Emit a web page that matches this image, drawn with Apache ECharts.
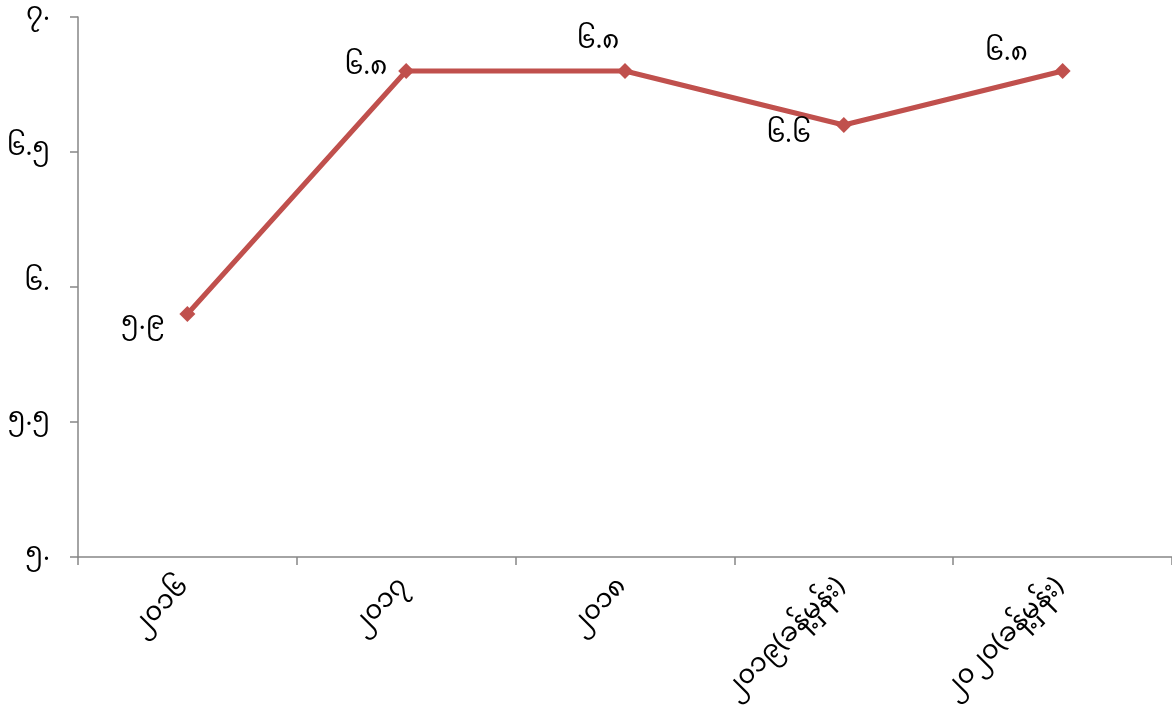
<!DOCTYPE html>
<html>
<head>
<meta charset="utf-8">
<script src="https://cdn.jsdelivr.net/npm/echarts@6/dist/echarts.min.js"></script>
<style>html,body{margin:0;padding:0;background:#fff;}#c{width:1172px;height:718px;}</style>
</head>
<body>
<div id="c"></div>
<script>
const categories = ['၂၀၁၆', '၂၀၁၇', '၂၀၁၈', '၂၀၁၉(ခန့်မှန်း)', '၂၀၂၀(ခန့်မှန်း)'];
const values = [5.9, 6.8, 6.8, 6.6, 6.8];
const yTicks = {5: '၅.', 5.5: '၅.၅', 6: '၆.', 6.5: '၆.၅', 7: '၇.'};

const myDigits = '၀၁၂၃၄၅၆၇၈၉';
function toMy(s) { return String(s).replace(/[0-9]/g, d => myDigits[+d]); }

const labelStyles = [
  {position: 'left', offset: [-10, 12]},
  {position: 'left', offset: [-6, 0]},
  {position: 'top', offset: [-27, 0]},
  {position: 'left', offset: [-20, 14]},
  {position: 'left', offset: [-22, -14]}
];

const FONT = '"Noto Sans Myanmar", "Myanmar Text", Padauk, "Noto Sans", sans-serif';
const chart = echarts.init(document.getElementById('c'));
chart.setOption({
  animation: false,
  backgroundColor: '#fff',
  grid: {left: 78, right: 0, top: 17, bottom: 161, containLabel: false},
  xAxis: {
    type: 'category',
    data: categories,
    boundaryGap: true,
    axisLine: {lineStyle: {color: '#868686', width: 1.5}},
    axisTick: {show: true, length: 8, lineStyle: {color: '#868686', width: 1.5}},
    axisLabel: {rotate: 45, fontSize: 26, color: '#000', fontFamily: FONT, margin: 28}
  },
  yAxis: {
    type: 'value',
    min: 5, max: 7, interval: 0.5,
    axisLine: {show: true, lineStyle: {color: '#868686', width: 1.5}},
    axisTick: {show: true, length: 8, lineStyle: {color: '#868686', width: 1.5}},
    splitLine: {show: false},
    axisLabel: {fontSize: 26, color: '#000', fontFamily: FONT, margin: 28,
      formatter: v => yTicks[v] !== undefined ? yTicks[v] : toMy(v)}
  },
  series: [{
    type: 'line',
    data: values.map((v, i) => ({value: v, label: labelStyles[i]})),
    lineStyle: {color: '#c0504d', width: 5},
    itemStyle: {color: '#c0504d'},
    symbol: 'diamond',
    symbolSize: 16,
    label: {show: true, fontSize: 26, color: '#000', fontFamily: FONT,
      formatter: p => toMy(p.value.toFixed(1))}
  }]
});
</script>
</body>
</html>
